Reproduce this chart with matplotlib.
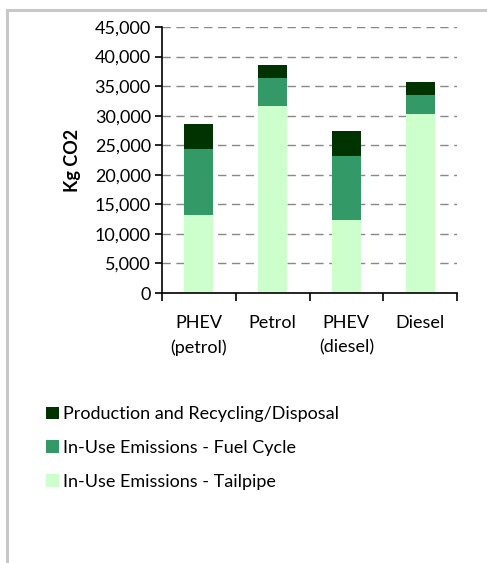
import numpy as np
import matplotlib.pyplot as plt
from matplotlib.ticker import FuncFormatter, MultipleLocator
from matplotlib.patches import Rectangle

plt.rcParams['font.family'] = ['Lato', 'DejaVu Sans']

# Lifetime CO2 per vehicle type (kg)
vehicles = ['PHEV\n(petrol)', 'Petrol', 'PHEV\n(diesel)', 'Diesel']
tailpipe = np.array([13200, 31600, 12350, 30300])
fuel_cycle = np.array([11200, 4800, 10850, 3200])
production = np.array([4200, 2200, 4200, 2200])

series_names = ['Production and Recycling/Disposal',
                'In-Use Emissions - Fuel Cycle',
                'In-Use Emissions - Tailpipe']
colors = ['#003300', '#339966', '#ccffcc']

fig = plt.figure(figsize=(4.87, 5.63), dpi=100)

# chart area border (gray frame)
fig.patches.append(Rectangle((7 / 487, -0.1), 1.2, 1.1 - 10 / 563,
                             transform=fig.transFigure, fill=False,
                             edgecolor='#c8c8c8', linewidth=2.2))

ax = fig.add_axes([162 / 487, 1 - 293 / 563, 295 / 487, 266 / 563])

x = np.arange(len(vehicles))
w = 0.39
ax.bar(x, tailpipe, w, color=colors[2], label=series_names[2], zorder=2)
ax.bar(x, fuel_cycle, w, bottom=tailpipe, color=colors[1],
       label=series_names[1], zorder=2)
ax.bar(x, production, w, bottom=tailpipe + fuel_cycle, color=colors[0],
       label=series_names[0], zorder=2)

ax.set_xlim(-0.5, len(vehicles) - 0.5)
ax.set_ylim(0, 45000)
ax.yaxis.set_major_locator(MultipleLocator(5000))
ax.yaxis.set_major_formatter(FuncFormatter(lambda v, p: f'{int(v):,}'))
ax.yaxis.grid(True, linestyle=(0, (6, 4)), color='#888888', linewidth=1)
ax.set_axisbelow(True)

fs = 13
ax.set_xticks(x)
ax.set_xticklabels(vehicles, fontsize=fs, linespacing=1.6)
ax.set_xticks(np.arange(-0.5, len(vehicles)), minor=True)
ax.tick_params(axis='x', which='major', length=0, pad=16)
ax.tick_params(axis='x', which='minor', length=6, width=1.2, direction='out')
ax.tick_params(axis='y', length=5, width=1.2, labelsize=fs, pad=3)

for s in ['top', 'right']:
    ax.spines[s].set_visible(False)
for s in ['left', 'bottom']:
    ax.spines[s].set_linewidth(1.2)

ax.set_ylabel('Kg CO2', fontsize=fs, fontweight='bold', labelpad=10)

handles, labels = ax.get_legend_handles_labels()
fig.legend(handles[::-1], labels[::-1], loc='upper left',
           bbox_to_anchor=(30 / 487, 1 - 390 / 563), frameon=False,
           fontsize=fs, handlelength=0.7, handleheight=0.7,
           handletextpad=0.25, labelspacing=0.98)

fig.savefig('out.png', dpi=100)
